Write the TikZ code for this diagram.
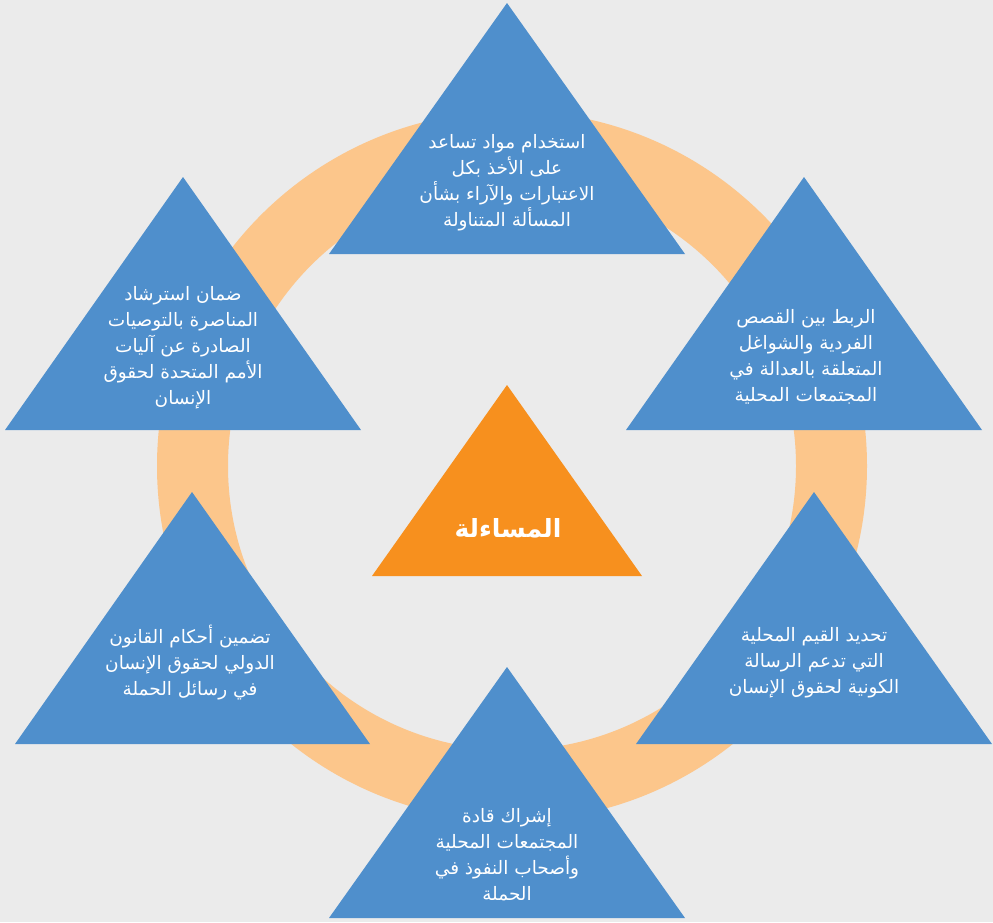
\documentclass[tikz,border=0pt]{standalone}
\usepackage{fontspec}
\newfontfamily\arabicfont[Script=Arabic]{DejaVu Sans}
\TeXXeTstate=1
\newcommand\artxt[1]{\beginR #1\endR}
\definecolor{bgcol}{HTML}{EBEBEB}
\definecolor{ringcol}{HTML}{FCC68B}
\definecolor{tricol}{HTML}{4F8FCC}
\definecolor{corecol}{HTML}{F7901E}
\begin{document}
\begin{tikzpicture}[x=1pt,y=-1pt,
  tri/.style={fill=tricol},
  coretri/.style={fill=corecol},
  steptext/.style={text=white,align=center,inner sep=0pt,
    font=\arabicfont\fontsize{18.5}{26}\selectfont},
  coretext/.style={text=white,align=center,inner sep=0pt,
    font=\arabicfont\bfseries\fontsize{25}{28}\selectfont}]
  % background and ring
  \fill[bgcol] (0,0) rectangle (993,922);
  \coordinate (ringc) at (512,466);
  \fill[ringcol,even odd rule] (ringc) circle[radius=355pt] (ringc) circle[radius=284pt];

  % triangles
  \fill[tri] (507,3) -- (685,254) -- (329,254) -- cycle;
  \fill[tri] (804,177) -- (982,430) -- (626,430) -- cycle;
  \fill[tri] (183,177) -- (361,430) -- (5,430) -- cycle;
  \fill[tri] (814,492) -- (992,744) -- (636,744) -- cycle;
  \fill[tri] (192,492) -- (370,744) -- (15,744) -- cycle;
  \fill[tri] (507,667) -- (685,918) -- (329,918) -- cycle;
  \fill[coretri] (507,385) -- (642,576) -- (372,576) -- cycle;

  % labels
  \node[coretext] (core) at (508,528) {\artxt{المساءلة}};
  \node[steptext] (top) at (507,183) {\artxt{استخدام مواد تساعد}\\\artxt{على الأخذ بكل}\\\artxt{الاعتبارات والآراء بشأن}\\\artxt{المسألة المتناولة}};
  \node[steptext] (topright) at (806,357) {\artxt{الربط بين القصص}\\\artxt{الفردية والشواغل}\\\artxt{المتعلقة بالعدالة في}\\\artxt{المجتمعات المحلية}};
  \node[steptext] (topleft) at (183,348) {\artxt{ضمان استرشاد}\\\artxt{المناصرة بالتوصيات}\\\artxt{الصادرة عن آليات}\\\artxt{الأمم المتحدة لحقوق}\\\artxt{الإنسان}};
  \node[steptext] (botright) at (814,663) {\artxt{تحديد القيم المحلية}\\\artxt{التي تدعم الرسالة}\\\artxt{الكونية لحقوق الإنسان}};
  \node[steptext] (botleft) at (190,663) {\artxt{تضمين أحكام القانون}\\\artxt{الدولي لحقوق الإنسان}\\\artxt{في رسائل الحملة}};
  \node[steptext] (bottom) at (507,855) {\artxt{إشراك قادة}\\\artxt{المجتمعات المحلية}\\\artxt{وأصحاب النفوذ في}\\\artxt{الحملة}};
\end{tikzpicture}
\end{document}
